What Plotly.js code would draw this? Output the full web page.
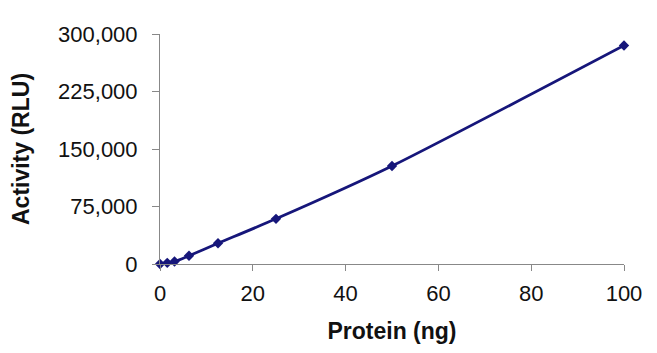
<!DOCTYPE html>
<html><head><meta charset="utf-8">
<script src="https://cdn.plot.ly/plotly-3.0.1.min.js"></script>
<style>html,body{margin:0;padding:0;background:#fff}</style>
</head><body><div id="chart" style="width:657px;height:353px"></div>
<script>
const proteinNg = [0, 1.5625, 3.125, 6.25, 12.5, 25, 50, 100];
const activityRLU = [0, 1500, 3200, 10800, 27000, 58900, 127800, 285000];
const yTickVals = [0, 75000, 150000, 225000, 300000];
const xTickVals = [0, 20, 40, 60, 80, 100];

const navy = '#16167a';
const trace = {
  x: proteinNg, y: activityRLU, type: 'scatter', mode: 'lines+markers',
  line: {color: navy, width: 2.8, shape: 'spline', smoothing: 0.6},
  marker: {symbol: 'diamond', size: 8, color: navy},
  cliponaxis: false, showlegend: false
};
const fam = 'Liberation Sans, Arial, sans-serif';
const font = {family: fam, size: 22, color: '#111'};
const layout = {
  width: 657, height: 353,
  margin: {l: 160, r: 33, t: 33.5, b: 88.7, pad: 0},
  paper_bgcolor: '#fff', plot_bgcolor: '#fff',
  font: font,
  xaxis: {
    range: [0, 100], tickvals: xTickVals, ticks: 'outside', ticklen: 6, tickwidth: 1,
    tickcolor: '#888', showline: true, linecolor: '#888', linewidth: 1,
    showgrid: false, zeroline: false, tickfont: font, ticklabelstandoff: 4,
    title: {text: '<b>Protein (ng)</b>', font: {family: fam, size: 23, color: '#111'}, standoff: 17}
  },
  yaxis: {
    range: [0, 300000], tickvals: yTickVals, tickformat: ',d', ticks: 'outside', ticklen: 7, tickwidth: 1,
    tickcolor: '#888', showline: true, linecolor: '#888', linewidth: 1,
    showgrid: false, zeroline: false, tickfont: font, ticklabelstandoff: 10,
    title: {text: '<b>Activity (RLU)</b>', font: {family: fam, size: 23, color: '#111'}, standoff: 22}
  }
};
Plotly.newPlot('chart', [trace], layout, {displayModeBar: false, staticPlot: true});
</script></body></html>
